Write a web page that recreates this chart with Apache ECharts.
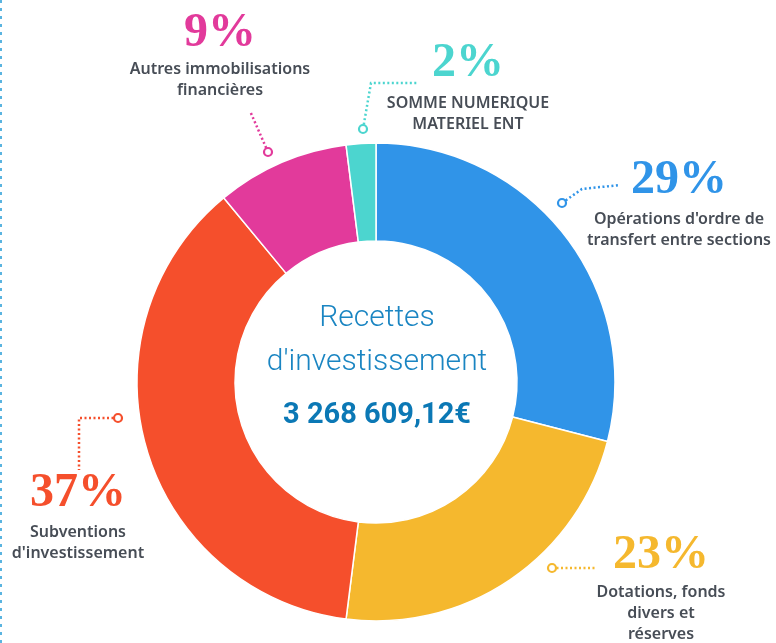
<!DOCTYPE html>
<html>
<head>
<meta charset="utf-8">
<script src="https://cdn.jsdelivr.net/npm/echarts@6/dist/echarts.min.js"></script>
<style>
  html, body { margin: 0; padding: 0; background: #fff; }
  #chart { width: 776px; height: 643px; }
</style>
</head>
<body>
<div id="chart"></div>
<script>
// data
const categories = [
  "Opérations d'ordre de\ntransfert entre sections",
  'Dotations, fonds\ndivers et\nréserves',
  "Subventions\nd'investissement",
  'Autres immobilisations\nfinancières',
  'SOMME NUMERIQUE\nMATERIEL ENT'
]
const shares = [29, 23, 37, 9, 2]
const colors = ['#3094E8', '#F5B82E', '#F54F2C', '#E23A9B', '#4CD5CF']
const centerTitle = "Recettes\nd'investissement"
const centerAmount = '3 268 609,12€'

// label placement (pixels): big number center, text top, leader points
const labelLayout = [
  { x: 679, pctY: 181, txtY: 209, line: [[562, 203], [582, 189], [620, 185]] },
  { x: 661, pctY: 556, txtY: 582, line: [[552, 568], [597, 568]] },
  { x: 78, pctY: 494, txtY: 522, line: [[118, 418], [79, 418], [79, 470]] },
  { x: 220, pctY: 34, txtY: 59, line: [[268, 152], [250, 111]] },
  { x: 468, pctY: 64, txtY: 93, line: [[363, 129], [371, 83], [418, 83]] }
]

const chart = echarts.init(document.getElementById('chart'))

const graphics = []
// dotted frame line on the left edge
graphics.push({
  type: 'line',
  shape: { x1: 1, y1: 0, x2: 1, y2: 643 },
  style: { stroke: '#5AB4E0', lineWidth: 2, lineDash: [3, 5] },
  silent: true
})
shares.forEach((v, i) => {
  const l = labelLayout[i]
  graphics.push({
    type: 'polyline',
    shape: { points: l.line },
    style: { stroke: colors[i], lineWidth: 2.5, lineDash: [2, 2.5], fill: null },
    silent: true
  })
  graphics.push({
    type: 'circle',
    shape: { cx: l.line[0][0], cy: l.line[0][1], r: 4 },
    style: { stroke: colors[i], lineWidth: 2.2, fill: '#fff' },
    silent: true
  })
  graphics.push({
    type: 'text',
    x: l.x, y: l.pctY,
    style: {
      text: v + '%',
      fill: colors[i],
      font: 'bold 48px "Liberation Serif", serif',
      align: 'center', verticalAlign: 'middle'
    },
    silent: true
  })
  graphics.push({
    type: 'text',
    x: l.x, y: l.txtY,
    style: {
      text: categories[i],
      fill: '#474D56',
      font: '600 16px "Noto Sans", sans-serif',
      lineHeight: 21,
      align: 'center', verticalAlign: 'top'
    },
    silent: true
  })
})
graphics.push({
  type: 'text',
  x: 377, y: 340,
  style: {
    text: centerTitle,
    fill: '#1A85C2',
    font: '300 30px Roboto, sans-serif',
    lineHeight: 44,
    align: 'center', verticalAlign: 'middle'
  },
  silent: true
})
graphics.push({
  type: 'text',
  x: 377, y: 416,
  style: {
    text: centerAmount,
    fill: '#0B78B5',
    font: 'bold 29px Roboto, sans-serif',
    align: 'center', verticalAlign: 'middle'
  },
  silent: true
})

chart.setOption({
  animation: false,
  backgroundColor: '#fff',
  graphic: graphics,
  series: [{
    type: 'pie',
    center: [376, 382],
    radius: [141, 239],
    startAngle: 90,
    clockwise: true,
    label: { show: false },
    labelLine: { show: false },
    itemStyle: { borderColor: '#fff', borderWidth: 1.5 },
    data: shares.map((v, i) => ({
      name: categories[i],
      value: v,
      itemStyle: { color: colors[i] }
    }))
  }]
})
</script>
</body>
</html>
